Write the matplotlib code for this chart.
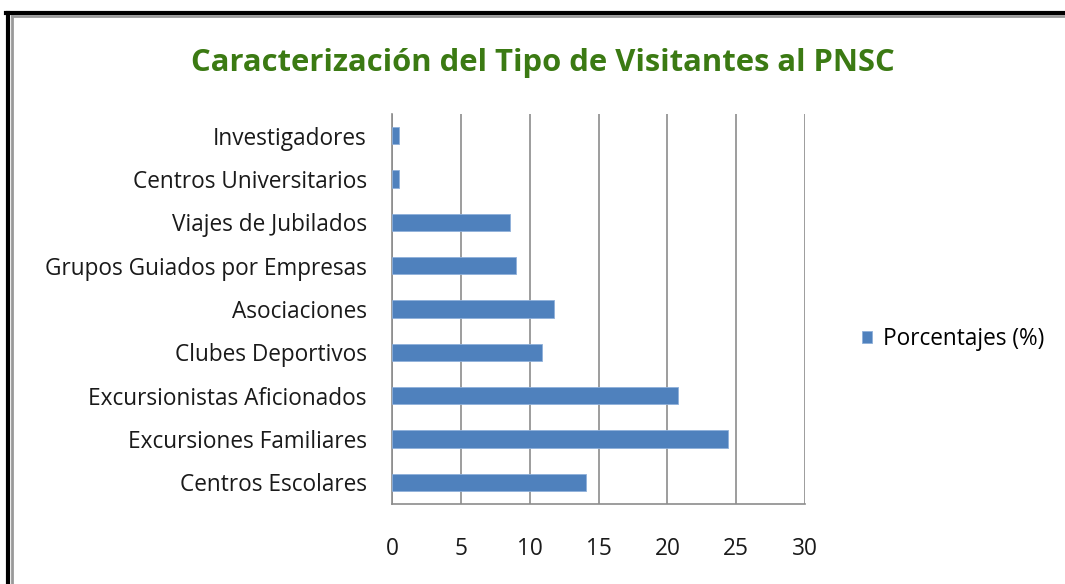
import matplotlib
matplotlib.use("Agg")
import matplotlib.pyplot as plt
from matplotlib.lines import Line2D

categories = ["Centros Escolares", "Excursiones Familiares", "Excursionistas Aficionados",
              "Clubes Deportivos", "Asociaciones", "Grupos Guiados por Empresas",
              "Viajes de Jubilados", "Centros Universitarios", "Investigadores"]
values = [14.1, 24.4, 20.8, 10.9, 11.8, 9.0, 8.6, 0.5, 0.5]
xticks = [0, 5, 10, 15, 20, 25, 30]
series_name = "Porcentajes (%)"

plt.rcParams['font.family'] = ['Open Sans', 'DejaVu Sans']

fig = plt.figure(figsize=(10.65, 5.84), dpi=100)
ax = fig.add_axes([0.368, 0.137, 0.388, 0.668])

bars = ax.barh(range(len(categories)), values, height=0.4, color="#4F81BD",
               edgecolor="#8FB0DA", linewidth=0.6, label=series_name, zorder=3)

ax.set_xlim(0, 30)
ax.set_ylim(-0.5, len(categories) - 0.5)
ax.set_xticks(xticks)
ax.set_yticks(range(len(categories)))
ax.set_yticklabels(categories, fontsize=16.3, color="#1a1a1a")
ax.tick_params(axis="x", labelsize=16.3, labelcolor="#1a1a1a", length=0, pad=24)
ax.tick_params(axis="y", length=0, pad=18)
ax.xaxis.grid(True, color="#8C8C8C", linewidth=1.2, zorder=0)
for side in ["top", "right"]:
    ax.spines[side].set_visible(False)
ax.spines["left"].set_color("#8C8C8C")
ax.spines["bottom"].set_color("#8C8C8C")
ax.spines["left"].set_linewidth(1.2)
ax.spines["bottom"].set_linewidth(1.2)

fig.text(0.51, 0.892, "Caracterización del Tipo de Visitantes al PNSC", ha="center", va="center",
         fontsize=22.3, fontweight="bold", color="#3B7A13")

fig.legend(handles=[bars], labels=[series_name], loc="center left",
           bbox_to_anchor=(0.79, 0.42), frameon=False, fontsize=16.3,
           handlelength=0.45, handleheight=0.45, handletextpad=0.5)

# frame around the chart
W, H = 1065, 584
fig.add_artist(Line2D([8 / W, 8 / W], [0, 1 - 13 / H], color="black", linewidth=3, transform=fig.transFigure))
fig.add_artist(Line2D([6 / W, 1], [1 - 13 / H, 1 - 13 / H], color="black", linewidth=3, transform=fig.transFigure))
fig.add_artist(Line2D([11.5 / W, 11.5 / W], [0, 1 - 15.5 / H], color="#999999", linewidth=2, transform=fig.transFigure))
fig.add_artist(Line2D([11.5 / W, 1], [1 - 16 / H, 1 - 16 / H], color="#999999", linewidth=2, transform=fig.transFigure))

fig.savefig("out.png", dpi=100)
